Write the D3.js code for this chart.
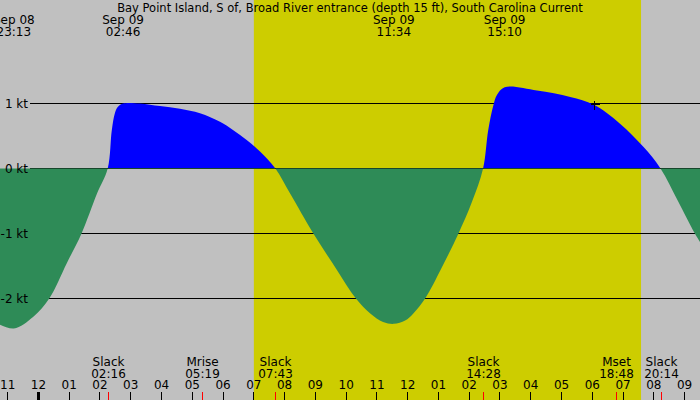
<!DOCTYPE html>
<html lang="en">
<head>
<meta charset="UTF-8">
<title>Bay Point Island current</title>
<script src="https://d3js.org/d3.v7.min.js"></script>
<style>
    body { margin: 0; background: #fff; }
    svg { display: block; font-family: "DejaVu Sans", sans-serif; font-size: 12px; }
    .grid { stroke: #000; stroke-width: 1; shape-rendering: crispEdges; }
    .axis text { fill: #000; font-size: 12px; font-family: "DejaVu Sans", sans-serif; }
    .axis line { stroke: #000; shape-rendering: crispEdges; }
    .axis .domain { display: none; }
</style>
</head>
<body>
<svg width="700" height="400"></svg>
<script>
const title = "Bay Point Island, S of, Broad River entrance (depth 15 ft), South Carolina Current";

// visible time window, daylight
const windowStart = "Sep 08 22:46";
const windowEnd = "Sep 09 21:31";
const sunrise = "Sep 09 07:01";
const sunset = "Sep 09 19:36";

// current speed (kt)
const times = [
    "Sep 08 22:40", "Sep 08 23:13", "Sep 08 23:51", "Sep 09 00:22", "Sep 09 00:56",
    "Sep 09 01:25", "Sep 09 01:55", "Sep 09 02:16", "Sep 09 02:24", "Sep 09 02:30",
    "Sep 09 02:36", "Sep 09 02:46", "Sep 09 03:19", "Sep 09 03:58", "Sep 09 04:37",
    "Sep 09 05:16", "Sep 09 05:55", "Sep 09 06:21", "Sep 09 06:47", "Sep 09 07:13",
    "Sep 09 07:43", "Sep 09 08:12", "Sep 09 08:57", "Sep 09 09:43", "Sep 09 10:20",
    "Sep 09 10:48", "Sep 09 11:13", "Sep 09 11:34", "Sep 09 11:56", "Sep 09 12:12",
    "Sep 09 12:35", "Sep 09 13:07", "Sep 09 13:40", "Sep 09 14:06", "Sep 09 14:28",
    "Sep 09 14:38", "Sep 09 14:48", "Sep 09 14:55", "Sep 09 15:10", "Sep 09 16:13",
    "Sep 09 17:18", "Sep 09 18:04", "Sep 09 18:55", "Sep 09 19:41", "Sep 09 20:14",
    "Sep 09 20:48", "Sep 09 21:21", "Sep 09 21:35"
];
const speeds = [
    -2.38, -2.46, -2.28, -2.00, -1.46,
    -1.00, -0.39, 0.00, 0.59, 0.85,
    0.95, 1.00, 1.00, 0.96, 0.92,
    0.85, 0.72, 0.59, 0.44, 0.26,
    0.00, -0.39, -1.00, -1.56, -2.00,
    -2.23, -2.36, -2.39, -2.34, -2.23,
    -2.00, -1.53, -1.00, -0.52, 0.00,
    0.59, 0.97, 1.13, 1.25, 1.20,
    1.10, 0.98, 0.69, 0.33, 0.00,
    -0.50, -1.00, -1.18
];

// max / min labels at the top
const peakDates = ["Sep 08", "Sep 09", "Sep 09", "Sep 09"];
const peakTimes = ["23:13", "02:46", "11:34", "15:10"];

// events at the bottom
const eventNames = ["Slack", "Mrise", "Slack", "Slack", "Mset", "Slack"];
const eventTimes = ["02:16", "05:19", "07:43", "14:28", "18:48", "20:14"];

const levels = [1, 0, -1, -2];
const markTime = "Sep 09 18:04";
const markSpeed = 1;

const parse = d3.timeParse("%b %d %H:%M");
const data = times.map((t, i) => ({t: parse(t), v: speeds[i]}));

const svg = d3.select("svg");
const width = 700, height = 400;

const x = d3.scaleTime()
    .domain([parse(windowStart), parse(windowEnd)])
    .range([0, width]);
const y = d3.scaleLinear()
    .domain([-2, 1])
    .range([298.5, 103.5]);

// background + daylight
svg.append("rect")
    .attr("width", width).attr("height", height)
    .attr("fill", "#c0c0c0");
svg.append("rect")
    .attr("x", x(parse(sunrise)))
    .attr("width", x(parse(sunset)) - x(parse(sunrise)))
    .attr("height", height)
    .attr("fill", "#cdcd00");

// level lines
svg.selectAll(".grid")
    .data(levels)
    .enter().append("line")
    .attr("class", "grid")
    .attr("x1", 30).attr("x2", width)
    .attr("y1", d => y(d)).attr("y2", d => y(d));

// flood / ebb fill
const zeroRow = Math.floor(y(0));
const defs = svg.append("defs");
defs.append("clipPath").attr("id", "above")
    .append("rect").attr("width", width).attr("height", zeroRow);
defs.append("clipPath").attr("id", "below")
    .append("rect").attr("y", zeroRow).attr("width", width).attr("height", height - zeroRow);

const area = d3.area()
    .x(d => x(d.t))
    .y0(y(0))
    .y1(d => y(d.v))
    .curve(d3.curveCatmullRom.alpha(0.5));

svg.append("path")
    .datum(data)
    .attr("clip-path", "url(#above)")
    .attr("fill", "#0000ff")
    .attr("d", area);
svg.append("path")
    .datum(data)
    .attr("clip-path", "url(#below)")
    .attr("fill", "#2e8b57")
    .attr("d", area);

// level labels
svg.selectAll(".lvl")
    .data(levels)
    .enter().append("text")
    .attr("x", 28)
    .attr("y", d => y(d) + 4)
    .attr("text-anchor", "end")
    .text(d => d + " kt");

// crosshair mark
const mx = Math.round(x(parse(markTime))) + 0.5, my = Math.round(y(markSpeed)) + 0.5;
svg.append("path")
    .attr("d", `M${mx - 4},${my}H${mx + 5}M${mx},${my - 4}V${my + 5}`)
    .attr("stroke", "#000")
    .attr("shape-rendering", "crispEdges");

// title
svg.append("text")
    .attr("x", width / 2).attr("y", 12)
    .attr("text-anchor", "middle")
    .style("font-size", "11.5px")
    .text(title);

// peak labels
const peaks = svg.selectAll(".peak")
    .data(peakTimes)
    .enter().append("g")
    .attr("transform", (d, i) => `translate(${x(parse(peakDates[i] + " " + d))},0)`);
peaks.append("text").attr("y", 24).attr("text-anchor", "middle").text((d, i) => peakDates[i]);
peaks.append("text").attr("y", 36).attr("text-anchor", "middle").text(d => d);

// hour axis
const axis = svg.append("g")
    .attr("class", "axis")
    .attr("transform", `translate(0,${height})`)
    .call(d3.axisTop(x)
        .ticks(d3.timeHour.every(1))
        .tickFormat(d3.timeFormat("%I"))
        .tickSize(8)
        .tickPadding(3));
axis.selectAll(".tick line")
    .attr("stroke-width", d => d.getHours() === 0 ? 3 : 1);

// events
const evt = svg.selectAll(".evt")
    .data(eventTimes)
    .enter().append("g")
    .attr("transform", d => `translate(${Math.round(x(parse("Sep 09 " + d))) + 0.5},0)`);
evt.append("line")
    .attr("y1", 392).attr("y2", height)
    .attr("stroke", "#ff0000")
    .attr("shape-rendering", "crispEdges");
evt.append("text").attr("y", 366).attr("text-anchor", "middle").text((d, i) => eventNames[i]);
evt.append("text").attr("y", 378).attr("text-anchor", "middle").text(d => d);
</script>
</body>
</html>
